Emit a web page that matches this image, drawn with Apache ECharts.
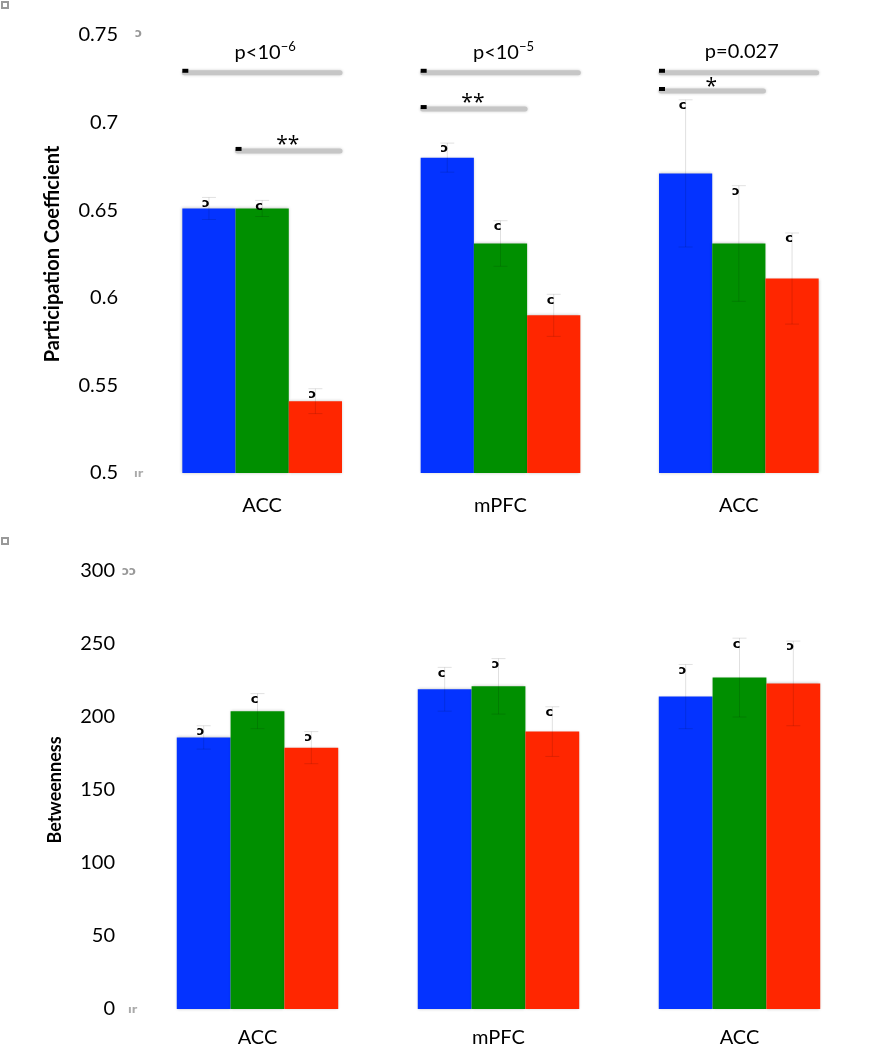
<!DOCTYPE html>
<html><head><meta charset="utf-8">
<script src="https://cdn.jsdelivr.net/npm/echarts@6/dist/echarts.min.js"></script>
<style>html,body{margin:0;padding:0;background:#fff}#c{width:892px;height:1050px}</style>
</head><body><div id="c"></div>
<script>
const categories = ['ACC', 'mPFC', 'ACC'];
const seriesColors = ['#0433FF', '#008F00', '#FF2600'];

// Participation coefficient (top)
const pcBlue = [0.651, 0.680, 0.671];
const pcGreen = [0.651, 0.631, 0.631];
const pcRed = [0.541, 0.590, 0.611];
const pcBlueErr = [0.0063, 0.0083, 0.042];
const pcGreenErr = [0.0046, 0.013, 0.033];
const pcRedErr = [0.0071, 0.012, 0.026];
const pcTicks = {min: 0.5, max: 0.75, interval: 0.05};

// Betweenness (bottom)
const btBlue = [186, 219, 214];
const btGreen = [204, 221, 227];
const btRed = [179, 190, 223];
const btBlueErr = [8, 15, 22];
const btGreenErr = [12, 19, 27];
const btRedErr = [11, 17, 29];
const btTicks = {min: 0, max: 300, interval: 50};

// significance brackets (top chart)
const sigCat = [0, 0, 1, 1, 2, 2];
const sigFrom = [0, 1, 0, 0, 0, 0];
const sigTo = [2, 2, 2, 1, 2, 1];
const sigLevel = [0.729, 0.6844, 0.729, 0.7083, 0.729, 0.7186];
const sigText = ['p<10', '**', 'p<10', '**', 'p=0.027', '*'];
const sigSup = ['−6', '', '−5', '', '', ''];

// odd glyphs drawn above the error bars
const pcGlyphs = [['ɔ','c','ɔ'], ['ɔ','c','c'], ['c','ɔ','c']];
const btGlyphs = [['ɔ','c','ɔ'], ['c','ɔ','c'], ['ɔ','c','ɔ']];

const FONT = 'Lato';
const GAP = 0.33;

function errSeries(gridIdx, vals, errs, glyphs) {
  const data = [];
  for (let s = 0; s < 3; s++) for (let i = 0; i < categories.length; i++) {
    data.push([i, vals[s][i], errs[s][i], s]);
  }
  return {
    type: 'custom', xAxisIndex: gridIdx, yAxisIndex: gridIdx, z: 5, clip: false,
    data: data,
    renderItem: function (params, api) {
      const i = api.value(0), v = api.value(1), e = api.value(2), s = api.value(3);
      const c = api.coord([i, v]);
      const band = api.size([1, 0])[0];
      const bw = band * (1 - GAP) / 3;
      const x = c[0] + (s - 1) * bw;
      const top = api.coord([i, v + e])[1];
      const bot = api.coord([i, v - e])[1];
      const st = {stroke: 'rgba(0,0,0,0.12)', lineWidth: 1};
      const cw = 7;
      return {type: 'group', children: [
        {type: 'line', shape: {x1: x, y1: top, x2: x, y2: bot}, style: st},
        {type: 'line', shape: {x1: x - cw, y1: top, x2: x + cw, y2: top}, style: st},
        {type: 'line', shape: {x1: x - cw, y1: bot, x2: x + cw, y2: bot}, style: st},
        {type: 'text', x: x - 3, y: top + 6, style: {text: glyphs[i][s], fill: '#000',
          font: 'bold 13px "DejaVu Sans"', textAlign: 'center', textVerticalAlign: 'middle'}}
      ]};
    }
  };
}

function barSeries(gridIdx, vals) {
  return vals.map((v, s) => ({
    type: 'bar', xAxisIndex: gridIdx, yAxisIndex: gridIdx, data: v,
    barGap: '0%', barCategoryGap: (GAP * 100) + '%',
    itemStyle: {color: seriesColors[s], shadowBlur: 3, shadowColor: 'rgba(0,0,0,0.25)'},
    emphasis: {disabled: true}, animation: false
  }));
}

const sigData = sigCat.map((c, k) => [c, sigLevel[k], sigFrom[k], sigTo[k], k]);
const sigSeries = {
  type: 'custom', xAxisIndex: 0, yAxisIndex: 0, z: 6, clip: false, data: sigData,
  renderItem: function (params, api) {
    const k = api.value(4);
    const c = api.coord([api.value(0), api.value(1)]);
    const band = api.size([1, 0])[0];
    const bw = band * (1 - GAP) / 3;
    const x0 = c[0] - 1.5 * bw + api.value(2) * bw;
    const x1 = c[0] - 1.5 * bw + (api.value(3) + 1) * bw - 2;
    const y = c[1];
    const isP = sigText[k].charAt(0) === 'p';
    const children = [
      {type: 'line', shape: {x1: x0 + 2, y1: y + 1, x2: x1, y2: y + 1},
        style: {stroke: '#c6c6c6', lineWidth: 5, lineCap: 'round', shadowBlur: 3, shadowColor: 'rgba(0,0,0,0.2)'}},
      {type: 'rect', shape: {x: x0, y: y - 3, width: 6, height: 4}, style: {fill: '#000'}}
    ];
    const tx = (x0 + x1) / 2 + (isP ? 4 : 0);
    if (sigSup[k]) {
      children.push({type: 'text', x: tx, y: y - 20, style: {
        text: '{a|' + sigText[k] + '}{b|' + sigSup[k] + '}',
        rich: {a: {fontSize: 20, fontFamily: FONT, fill: '#000', lineHeight: 22, verticalAlign: 'bottom'},
               b: {fontSize: 13, fontFamily: FONT, fill: '#000', lineHeight: 22, verticalAlign: 'top'}},
        textAlign: 'center', textVerticalAlign: 'middle'}});
    } else if (isP) {
      children.push({type: 'text', x: tx, y: y - 20, style: {
        text: sigText[k], font: '20px ' + FONT, fill: '#000',
        textAlign: 'center', textVerticalAlign: 'middle'}});
    } else {
      children.push({type: 'text', x: tx, y: y - (sigText[k] === '*' ? 3 : 5), style: {
        text: sigText[k], font: '21px "Open Sans"', fill: '#000',
        textAlign: 'center', textVerticalAlign: 'middle'}});
    }
    return {type: 'group', children: children};
  }
};

const chart = echarts.init(document.getElementById('c'), null, {renderer: 'canvas'});
const yAxisBase = {
  type: 'value', axisLine: {show: false}, axisTick: {show: false}, splitLine: {show: false},
  axisLabel: {fontSize: 20, color: '#000', fontFamily: FONT},
  nameLocation: 'middle', nameRotate: 90,
  nameTextStyle: {fontSize: 18, fontWeight: 'bold', color: '#000', fontFamily: FONT}
};
const xAxisBase = {
  type: 'category', data: categories, axisLine: {show: false}, axisTick: {show: false},
  axisLabel: {fontSize: 20, color: '#000', fontFamily: FONT}
};

chart.setOption({
  animation: false,
  grid: [
    {left: 143, right: 34, top: 35, height: 438},
    {left: 137, right: 32, top: 571, height: 438}
  ],
  xAxis: [
    Object.assign({}, xAxisBase, {gridIndex: 0, axisLabel: Object.assign({}, xAxisBase.axisLabel, {margin: 23})}),
    Object.assign({}, xAxisBase, {gridIndex: 1, axisLabel: Object.assign({}, xAxisBase.axisLabel, {margin: 19})})
  ],
  yAxis: [
    Object.assign({}, yAxisBase, {gridIndex: 0, min: pcTicks.min, max: pcTicks.max, interval: pcTicks.interval,
      name: 'Participation Coefficient', nameGap: 80,
      nameTextStyle: Object.assign({}, yAxisBase.nameTextStyle, {fontSize: 20}),
      axisLabel: Object.assign({}, yAxisBase.axisLabel, {margin: 25, formatter: v => String(+v.toFixed(2))})}),
    Object.assign({}, yAxisBase, {gridIndex: 1, min: btTicks.min, max: btTicks.max, interval: btTicks.interval,
      name: 'Betweenness', nameGap: 73,
      nameTextStyle: Object.assign({}, yAxisBase.nameTextStyle, {fontSize: 18}),
      axisLabel: Object.assign({}, yAxisBase.axisLabel, {margin: 22})})
  ],
  series: [].concat(
    barSeries(0, [pcBlue, pcGreen, pcRed]),
    barSeries(1, [btBlue, btGreen, btRed]),
    [errSeries(0, [pcBlue, pcGreen, pcRed], [pcBlueErr, pcGreenErr, pcRedErr], pcGlyphs),
     errSeries(1, [btBlue, btGreen, btRed], [btBlueErr, btGreenErr, btRedErr], btGlyphs),
     sigSeries]
  ),
  graphic: [
    {type: 'rect', left: 1, top: 1, shape: {width: 6, height: 6}, style: {fill: '#fff', stroke: '#999', lineWidth: 2}},
    {type: 'rect', left: 1, top: 537, shape: {width: 6, height: 6}, style: {fill: '#fff', stroke: '#999', lineWidth: 2}},
    {type: 'text', left: 135, top: 28, style: {text: 'ɔ', font: 'bold 12px "DejaVu Sans"', fill: '#999'}},
    {type: 'text', left: 134, top: 469, style: {text: 'ır', font: 'bold 11px "DejaVu Sans"', fill: '#aaa'}},
    {type: 'text', left: 122, top: 566, style: {text: 'ɔɔ', font: 'bold 12px "DejaVu Sans"', fill: '#999'}},
    {type: 'text', left: 128, top: 1005, style: {text: 'ır', font: 'bold 11px "DejaVu Sans"', fill: '#aaa'}}
  ]
});
</script></body></html>
